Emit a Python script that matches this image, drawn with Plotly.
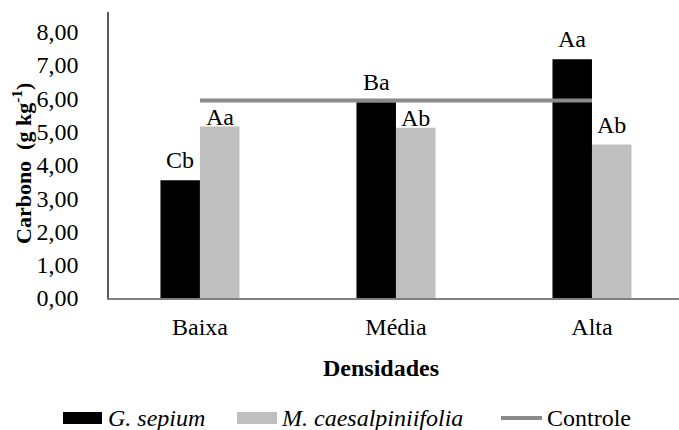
import plotly.graph_objects as go

# Soil carbon by planting density
densidades = ["Baixa", "Média", "Alta"]
g_sepium = [3.54, 5.88, 7.17]
m_caesalpiniifolia = [5.15, 5.11, 4.61]
controle = [5.93, 5.93, 5.93]
letras_g = ["Cb", "Ba", "Aa"]
letras_m = ["Aa", "Ab", "Ab"]
y_ticks = [0, 1, 2, 3, 4, 5, 6, 7, 8]

FONT = "Liberation Serif"
FS = 24
TXT = dict(family=FONT, size=FS, color="#000")

W, H = 679, 430
ML, MR, MT, MB = 109, 0, 12, 132
PW, PH = W - ML - MR, H - MT - MB


def px(x):
    return (x - ML) / PW


def py(y):
    return (H - MB - y) / PH


fig = go.Figure()
fig.add_trace(go.Bar(x=densidades, y=g_sepium, name="G. sepium",
                     marker=dict(color="#000000", line=dict(width=0))))
fig.add_trace(go.Bar(x=densidades, y=m_caesalpiniifolia, name="M. caesalpiniifolia",
                     marker=dict(color="#bfbfbf", line=dict(width=0))))
fig.add_trace(go.Scatter(x=densidades, y=controle, mode="lines", name="Controle",
                         line=dict(color="#8a8a8a", width=4)))

annotations = []
# letters above each bar (the first two gray-bar letters sit closer to their bars)
shift_g = [5, 5, 5]
shift_m = [-5, -5, 5]
for i, (vg, vm, lg, lm) in enumerate(zip(g_sepium, m_caesalpiniifolia, letras_g, letras_m)):
    annotations.append(dict(x=i - 0.1, y=vg, xref="x", yref="y", text=lg, showarrow=False,
                            yanchor="bottom", yshift=shift_g[i], font=TXT))
    annotations.append(dict(x=i + 0.1, y=vm, xref="x", yref="y", text=lm, showarrow=False,
                            yanchor="bottom", yshift=shift_m[i], font=TXT))

# axis titles
annotations.append(dict(x=px(381), y=py(368), xref="paper", yref="paper", text="<b>Densidades</b>",
                        showarrow=False, xanchor="center", yanchor="middle", font=TXT))
annotations.append(dict(x=px(22), y=py(164), xref="paper", yref="paper",
                        text="<b>Carbono&nbsp; (g kg<sup>-1</sup>)</b>", textangle=-90,
                        showarrow=False, xanchor="center", yanchor="middle",
                        font=dict(family=FONT, size=22, color="#000")))

# legend entries
legend_y = 418
shapes = [
    dict(type="rect", xref="paper", yref="paper", x0=px(63), x1=px(102),
         y0=py(412), y1=py(424), fillcolor="#000000", line=dict(width=0)),
    dict(type="rect", xref="paper", yref="paper", x0=px(237), x1=px(277),
         y0=py(412), y1=py(424), fillcolor="#bfbfbf", line=dict(width=0)),
    dict(type="line", xref="paper", yref="paper", x0=px(501), x1=px(542),
         y0=py(legend_y), y1=py(legend_y), line=dict(color="#8a8a8a", width=4)),
]
for x0, txt in [(106, "<i>G. sepium</i>"), (279, "<i>M. caesalpiniifolia</i>"), (545, "Controle")]:
    annotations.append(dict(x=px(x0), y=py(legend_y), xref="paper", yref="paper", text=txt,
                            showarrow=False, xanchor="left", yanchor="middle", font=TXT))

fig.update_layout(
    width=W, height=H,
    margin=dict(l=ML, r=MR, t=MT, b=MB),
    paper_bgcolor="white", plot_bgcolor="white",
    barmode="group", bargap=0.597, bargroupgap=0,
    showlegend=False,
    separators=",.",
    font=TXT,
    annotations=annotations,
    shapes=shapes,
)
fig.update_xaxes(type="category", range=[-0.464, 2.444], showline=True, linecolor="#7f7f7f",
                 linewidth=1.5, ticks="", showgrid=False, zeroline=False,
                 tickfont=TXT, ticklabelstandoff=6)
fig.update_yaxes(range=[0, 8.59], tickvals=y_ticks, tickformat=".2f", showline=True,
                 linecolor="#595959", linewidth=1.5, ticks="", showgrid=False, zeroline=False,
                 tickfont=TXT, ticklabelstandoff=24)

fig.write_html("out.html")
